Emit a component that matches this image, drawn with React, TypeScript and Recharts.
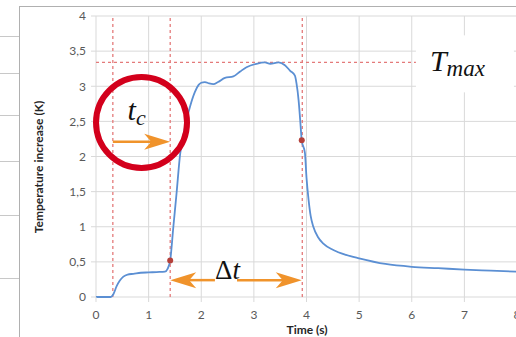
import { LineChart, Line, XAxis, YAxis, CartesianGrid, ReferenceLine, ReferenceDot, Label } from 'recharts';

const times = [
  0, 0.28, 0.33, 0.39, 0.45, 0.52, 0.6, 0.71, 0.85, 1.0, 1.15, 1.31, 1.36, 1.41, 1.47, 1.53, 1.6, 1.66,
  1.73, 1.79, 1.88, 1.95, 2.0, 2.07, 2.15, 2.23, 2.32, 2.45, 2.61, 2.74, 2.86, 3.05, 3.21, 3.31, 3.47,
  3.59, 3.69, 3.78, 3.81, 3.85, 3.88, 3.91, 3.97, 4.0, 4.04, 4.08, 4.13, 4.22, 4.32, 4.51, 4.75, 5.0,
  5.5, 6.0, 6.5, 7.0, 7.5, 8.0,
];
const temps = [
  0, 0, 0.04, 0.15, 0.23, 0.29, 0.32, 0.33, 0.345, 0.35, 0.355, 0.36, 0.4, 0.52, 1.0, 1.47, 2.04, 2.3,
  2.55, 2.72, 2.92, 3.02, 3.05, 3.06, 3.04, 3.03, 3.06, 3.12, 3.14, 3.21, 3.27, 3.32, 3.34, 3.32, 3.34,
  3.3, 3.22, 3.15, 3.04, 2.8, 2.52, 2.23, 2.05, 1.7, 1.38, 1.15, 1.0, 0.85, 0.76, 0.67, 0.6, 0.55,
  0.47, 0.43, 0.41, 0.39, 0.375, 0.36,
];

const xTicks = [0, 1, 2, 3, 4, 5, 6, 7, 8];
const yTicks = [0, 0.5, 1, 1.5, 2, 2.5, 3, 3.5, 4];

// dashed guide lines: start of heating, t_c, end of pulse; and T max level
const guideTimes = [0.32, 1.41, 3.92];
const tMax = 3.34;
// marked points on the curve
const markTimes = [1.41, 3.91];
const markTemps = [0.52, 2.23];

// arrows
const tcArrow = { from: 0.32, to: 1.41, level: 2.21 };
const dtArrowLeft = { from: 2.26, to: 1.41, level: 0.24 };
const dtArrowRight = { from: 2.68, to: 3.91, level: 0.24 };

// left table fragments outside the chart frame
const sideLines = [36, 73, 115, 161, 215, 278];

const data = times.map((t, i) => ({ time: t, temp: temps[i] }));

const ORANGE = '#f0932b';
const GUIDE = '#e47a7a';
const MATH = '"Liberation Serif", "DejaVu Serif", serif';

const fmt = (v: number) => String(v).replace('.', ',');

function ArrowHead({ cx, cy, dir }: { cx?: number; cy?: number; dir: 1 | -1 }) {
  if (cx == null || cy == null) return null;
  const len = 26;
  const half = 8;
  const notch = 7;
  const b = cx - dir * len;
  const n = cx - dir * (len - notch);
  return <path d={`M${cx},${cy} L${b},${cy - half} L${n},${cy} L${b},${cy + half} Z`} fill={ORANGE} />;
}

function RingShape({ cx, cy }: { cx?: number; cy?: number }) {
  if (cx == null || cy == null) return null;
  return <circle cx={cx} cy={cy} r={45.5} fill="none" stroke="#d3001c" strokeWidth={6} />;
}

function TcText({ cx, cy }: { cx?: number; cy?: number }) {
  if (cx == null || cy == null) return null;
  return (
    <text x={cx} y={cy} fontFamily={MATH} fontStyle="italic" fontSize={30} fill="#111">
      t<tspan fontSize={22} dy={5}>c</tspan>
    </text>
  );
}

function DtText({ cx, cy }: { cx?: number; cy?: number }) {
  if (cx == null || cy == null) return null;
  return (
    <text x={cx} y={cy} fontFamily={MATH} fontSize={27} fill="#111" textAnchor="middle">
      Δ<tspan fontStyle="italic">t</tspan>
    </text>
  );
}

function TmaxText({ cx, cy }: { cx?: number; cy?: number }) {
  if (cx == null || cy == null) return null;
  return (
    <g>
      <rect x={cx - 49} y={cy - 27} width={98} height={57} fill="#fff" />
      <text x={cx - 35} y={cy + 9} fontFamily={MATH} fontStyle="italic" fontSize={30} fill="#111">
        T<tspan fontSize={23} dy={5}>max</tspan>
      </text>
    </g>
  );
}

function Dot({ cx, cy }: { cx?: number; cy?: number }) {
  if (cx == null || cy == null) return null;
  return <circle cx={cx} cy={cy} r={3} fill="#b5403a" />;
}

export default function App() {
  return (
    <div style={{ position: 'absolute', left: 0, top: 0, width: 516, height: 337, overflow: 'hidden', background: '#fff' }}>
      {sideLines.map((y) => (
        <div key={y} style={{ position: 'absolute', left: 0, top: y, width: 20, height: 1, background: '#c8c8c8' }} />
      ))}
      <div style={{ position: 'absolute', left: 19, top: 6, width: 600, height: 400, borderLeft: '1px solid #b0b0b0', borderTop: '1px solid #b0b0b0' }} />
      <div style={{ position: 'absolute', left: 0, top: 0 }}>
        <LineChart
          width={540}
          height={337}
          data={data}
          margin={{ top: 16, right: 23, bottom: 10, left: 0 }}
          style={{ fontFamily: 'Lato, Carlito, sans-serif' }}
        >
          <CartesianGrid stroke="#d9d9d9" strokeWidth={1} />
          <XAxis
            dataKey="time"
            type="number"
            domain={[0, 8]}
            ticks={xTicks}
            height={30}
            axisLine={false}
            tickLine={{ stroke: '#d9d9d9' }}
            tickSize={5}
            tickMargin={8}
            tick={{ fill: '#595959', fontSize: 12 }}
          >
            <Label
              content={() => (
                <text x={307} y={334} textAnchor="middle" fontSize={12} fontWeight="bold" fill="#262626">
                  Time (s)
                </text>
              )}
            />
          </XAxis>
          <YAxis
            type="number"
            domain={[0, 4]}
            ticks={yTicks}
            width={96}
            axisLine={false}
            tickLine={{ stroke: '#d9d9d9' }}
            tickSize={5}
            tickMargin={5}
            tickFormatter={fmt}
            tick={{ fill: '#595959', fontSize: 12 }}
          >
            <Label
              content={() => (
                <text
                  x={43}
                  y={167}
                  transform="rotate(-90 43 167)"
                  textAnchor="middle"
                  fontSize={12}
                  fontWeight="bold"
                  fill="#262626"
                >
                  Temperature increase (K)
                </text>
              )}
            />
          </YAxis>
          {guideTimes.map((t) => (
            <ReferenceLine key={t} x={t} stroke={GUIDE} strokeDasharray="3 3" strokeWidth={1.3} />
          ))}
          <ReferenceLine y={tMax} stroke={GUIDE} strokeDasharray="3 3" strokeWidth={1.3} />
          <ReferenceDot x={7.01} y={tMax} r={1} shape={(p: any) => <TmaxText {...p} />} />
          <Line
            type="monotone"
            dataKey="temp"
            stroke="#5b8fd3"
            strokeWidth={1.8}
            dot={false}
            isAnimationActive={false}
          />
          {markTimes.map((t, i) => (
            <ReferenceDot key={t} x={t} y={markTemps[i]} r={3} shape={(p: any) => <Dot {...p} />} />
          ))}
          <ReferenceLine
            segment={[{ x: tcArrow.from, y: tcArrow.level }, { x: tcArrow.to - 0.3, y: tcArrow.level }]}
            stroke={ORANGE}
            strokeWidth={2.5}
          />
          <ReferenceDot x={tcArrow.to} y={tcArrow.level} r={1} shape={(p: any) => <ArrowHead {...p} dir={1} />} />
          <ReferenceLine
            segment={[{ x: dtArrowLeft.from, y: dtArrowLeft.level }, { x: dtArrowLeft.to + 0.3, y: dtArrowLeft.level }]}
            stroke={ORANGE}
            strokeWidth={2.5}
          />
          <ReferenceDot x={dtArrowLeft.to} y={dtArrowLeft.level} r={1} shape={(p: any) => <ArrowHead {...p} dir={-1} />} />
          <ReferenceLine
            segment={[{ x: dtArrowRight.from, y: dtArrowRight.level }, { x: dtArrowRight.to - 0.3, y: dtArrowRight.level }]}
            stroke={ORANGE}
            strokeWidth={2.5}
          />
          <ReferenceDot x={dtArrowRight.to} y={dtArrowRight.level} r={1} shape={(p: any) => <ArrowHead {...p} dir={1} />} />
          <ReferenceDot x={0.865} y={2.484} r={1} shape={(p: any) => <RingShape {...p} />} />
          <ReferenceDot x={0.6} y={2.52} r={1} shape={(p: any) => <TcText {...p} />} />
          <ReferenceDot x={2.5} y={0.26} r={1} shape={(p: any) => <DtText {...p} />} />
        </LineChart>
      </div>
    </div>
  );
}
